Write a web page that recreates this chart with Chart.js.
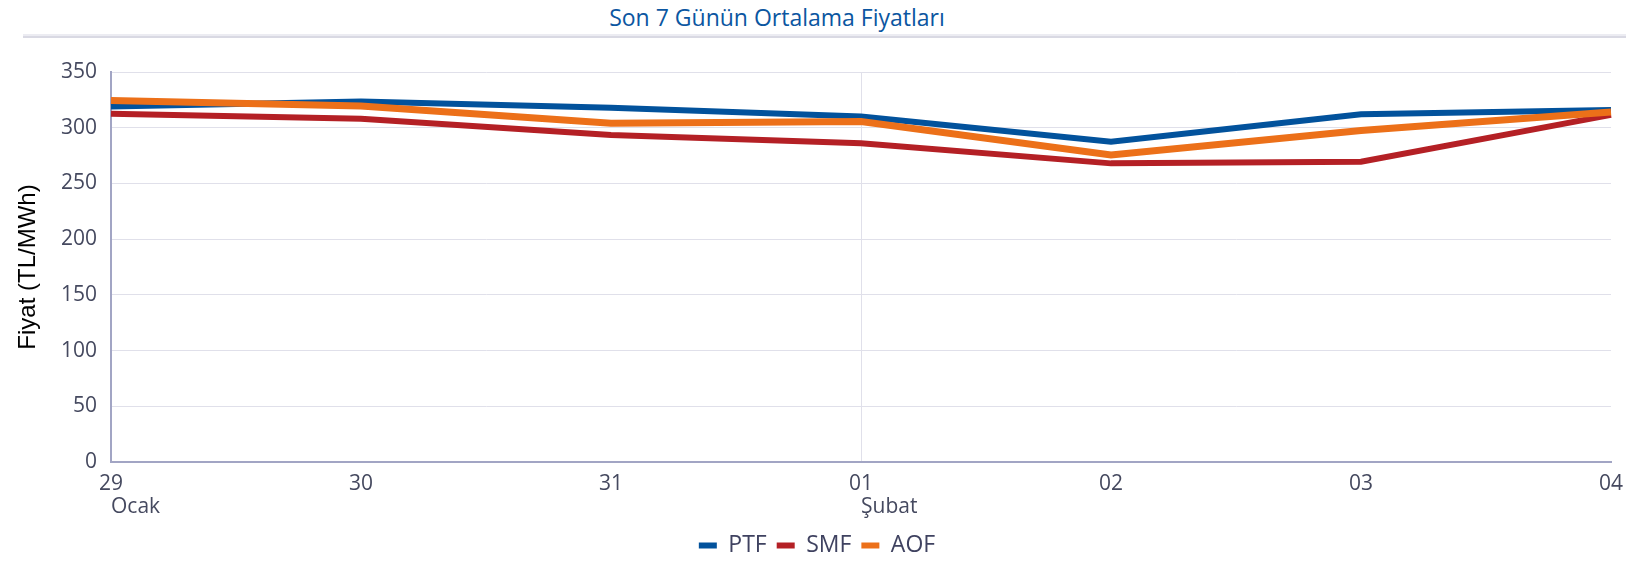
<!DOCTYPE html>
<html>
<head>
<meta charset="utf-8">
<script src="https://cdn.jsdelivr.net/npm/chart.js@4.4.1/dist/chart.umd.min.js"></script>
<style>
    html, body { margin: 0; padding: 0; background: #fff; }
    #wrap { position: relative; width: 1634px; height: 562px; }
    #title { position: absolute; left: 0; top: 1px; width: 1554px; text-align: center; font-family: "Open Sans", sans-serif; font-size: 23px; color: #0b56a1; }
    #rule { position: absolute; left: 23px; top: 34px; width: 1603px; height: 2px; background: #ececf2; border-bottom: 2px solid #d9d9e3; }
    canvas { position: absolute; left: 0; top: 0; }
</style>
</head>
<body>
<div id="wrap">
    <div id="title">Son 7 Günün Ortalama Fiyatları</div>
    <div id="rule"></div>
    <canvas id="line_chart" width="1634" height="562"></canvas>
</div>
<script>
var days = ["29", "30", "31", "01", "02", "03", "04"];
var months = ["Ocak", "", "", "Şubat", "", "", ""];
var yTicks = [0, 50, 100, 150, 200, 250, 300, 350];

var ptf = [319, 323.5, 318, 310, 287.5, 312, 316];
var smf = [312.5, 308, 293.5, 286, 268, 269.5, 311.5];
var aof = [324.5, 319.5, 304, 305.5, 275.5, 297.5, 314];

var tickColor = '#45495f';
var tickFont = { family: 'Open Sans', size: 21 };

// month names under the first day of each month, left aligned on the tick
var monthLabels = {
    id: 'monthLabels',
    afterLayout: function (chart) {
        // push the legend a little lower
        chart.legend.top += 5;
        chart.legend.bottom += 5;
    },
    afterDraw: function (chart) {
        var ctx = chart.ctx;
        var x = chart.scales.x;
        ctx.save();
        ctx.font = '21px "Open Sans"';
        ctx.fillStyle = tickColor;
        ctx.textAlign = 'left';
        ctx.textBaseline = 'middle';
        months.forEach(function (m, i) {
            if (m) ctx.fillText(m, x.getPixelForTick(i), x.top + 45);
        });
        ctx.restore();
    }
};

new Chart(document.getElementById("line_chart").getContext("2d"), {
    type: 'line',
    data: {
        labels: days,
        datasets: [{
            label: "PTF",
            data: ptf,
            borderColor: '#02529c',
            backgroundColor: '#02529c',
            borderWidth: 6,
            order: 1
        }, {
            label: "SMF",
            data: smf,
            borderColor: '#b42025',
            backgroundColor: '#b42025',
            borderWidth: 6,
            order: 2
        }, {
            label: "AOF",
            data: aof,
            borderColor: '#ec7019',
            backgroundColor: '#ec7019',
            borderWidth: 7,
            order: 0
        }]
    },
    options: {
        responsive: false,
        animation: false,
        layout: { padding: { top: 72, left: 0, right: 0, bottom: 0 } },
        elements: {
            point: { radius: 0 },
            line: { tension: 0, borderCapStyle: 'butt', borderJoinStyle: 'miter' }
        },
        plugins: {
            tooltip: { enabled: false },
            legend: {
                position: 'bottom',
                labels: {
                    boxWidth: 18,
                    boxHeight: 6,
                    padding: 10,
                    color: '#3f4260',
                    font: { family: 'Open Sans', size: 23 },
                    sort: function (a, b) { return a.datasetIndex - b.datasetIndex; },
                    generateLabels: function (chart) {
                        var items = Chart.defaults.plugins.legend.labels.generateLabels(chart);
                        items.forEach(function (it) { it.lineWidth = 0; });
                        return items;
                    }
                }
            }
        },
        scales: {
            x: {
                grid: {
                    drawTicks: false,
                    color: function (c) { return c.index === 3 ? '#e0e0ea' : 'rgba(0,0,0,0)'; }
                },
                border: { color: '#a2a5c4', width: 2 },
                ticks: {
                    color: tickColor,
                    padding: 9,
                    maxRotation: 0,
                    font: tickFont
                },
                afterFit: function (s) { s.height = 57; s.paddingRight = 23; }
            },
            y: {
                min: 0,
                max: 350,
                afterBuildTicks: function (s) { s.ticks = yTicks.map(function (v) { return { value: v }; }); },
                grid: { drawTicks: false, color: '#e0e0ea' },
                border: { color: '#a2a5c4', width: 2 },
                ticks: {
                    color: tickColor,
                    padding: 14,
                    font: tickFont
                },
                title: {
                    display: true,
                    text: 'Fiyat (TL/MWh)',
                    color: '#000',
                    padding: { top: 14, bottom: 0 },
                    font: { family: 'Liberation Sans', size: 24 }
                },
                afterFit: function (s) { s.width = 111; }
            }
        }
    },
    plugins: [monthLabels]
});
</script>
</body>
</html>
